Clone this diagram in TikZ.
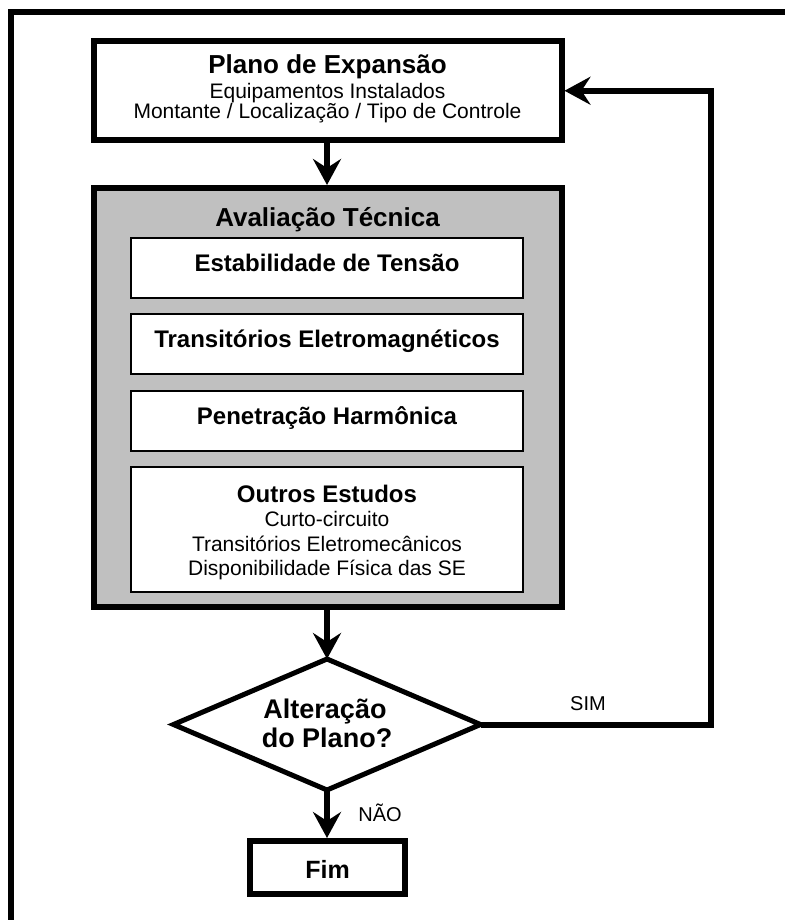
\documentclass[tikz,border=0pt]{standalone}
\usepackage{fontspec}
\setmainfont{Liberation Sans}
\usetikzlibrary{arrows.meta,shapes.geometric}
\definecolor{panelgray}{RGB}{192,192,192}
\begin{document}
\begin{tikzpicture}[x=1pt,y=-1pt,
  thickbox/.style={draw, line width=6pt, inner sep=0pt},
  study/.style={draw, fill=white, line width=1.5pt, minimum width=392pt, minimum height=60pt, inner sep=0pt},
  flow/.style={line width=6pt, line join=miter, -{Stealth[length=26pt,width=28pt,inset=9pt]}},
  head/.style={font=\fontsize{26}{30}\selectfont\bfseries, anchor=base, inner sep=0pt},
  item/.style={font=\fontsize{24}{28}\selectfont\bfseries, anchor=base, inner sep=0pt},
  plain/.style={font=\fontsize{21}{24}\selectfont, anchor=base, inner sep=0pt},
  tag/.style={font=\fontsize{20}{24}\selectfont, anchor=base, inner sep=0pt},
]
\useasboundingbox (0,0) rectangle (785,920);

% page frame (top and left edges)
\draw[line width=5.5pt, line cap=butt, line join=miter] (11,920) -- (11,12) -- (785,12);

% expansion plan
\node[thickbox, fill=white, minimum width=468pt, minimum height=98.5pt] (plan) at (327.5,90.75) {};
\node[head] (planT) at (327.5,74) {Plano de Expansão};
\node[plain] (planA) at (327.5,98.5) {Equipamentos Instalados};
\node[plain] (planB) at (327.5,118.5) {Montante / Localização / Tipo de Controle};

% technical evaluation panel
\node[thickbox, fill=panelgray, minimum width=468pt, minimum height=419pt] (tech) at (327.5,397.5) {};
\node[head] (techT) at (327.5,226) {Avaliação Técnica};

\node[study] (s1) at (327,268) {};
\node[item] (s1T) at (327,271) {Estabilidade de Tensão};
\node[study] (s2) at (327,344) {};
\node[item] (s2T) at (327,347) {Transitórios Eletromagnéticos};
\node[study] (s3) at (327,421) {};
\node[item] (s3T) at (327,424) {Penetração Harmônica};
\node[study, minimum height=125pt] (s4) at (327,529.5) {};
\node[item] (s4T) at (327,502) {Outros Estudos};
\node[plain] (s4A) at (327,526) {Curto-circuito};
\node[plain] (s4B) at (327,551) {Transitórios Eletromecânicos};
\node[plain] (s4C) at (327,575) {Disponibilidade Física das SE};

% decision
\node[diamond, draw, fill=white, line width=5pt, minimum width=307pt, minimum height=131pt, inner sep=0pt, outer sep=0pt] (dec) at (327,724.5) {};
\node[font=\fontsize{27}{30}\selectfont\bfseries, anchor=base, inner sep=0pt] (decA) at (325,718) {Alteração};
\node[font=\fontsize{27}{30}\selectfont\bfseries, anchor=base, inner sep=0pt] (decB) at (327,747) {do Plano?};

% end
\node[thickbox, fill=white, minimum width=155pt, minimum height=53pt] (fim) at (327.5,867.5) {};
\node[font=\fontsize{25}{28}\selectfont\bfseries, anchor=base, inner sep=0pt] (fimT) at (327.5,878) {Fim};

% connectors
\coordinate (loop) at (710.5,400);
\draw[flow] (plan.south -| dec.north) -- (tech.north -| dec.north);
\draw[flow] (tech.south -| dec.north) -- (dec.north);
\draw[flow] (dec.south) -- (fim.north -| dec.south);
\draw[flow] (dec.east) -- (dec.east -| loop) |- (plan.east);

\node[tag] (no) at (380,821) {NÃO};
\node[tag] (yes) at (588,710) {SIM};
\end{tikzpicture}
\end{document}
